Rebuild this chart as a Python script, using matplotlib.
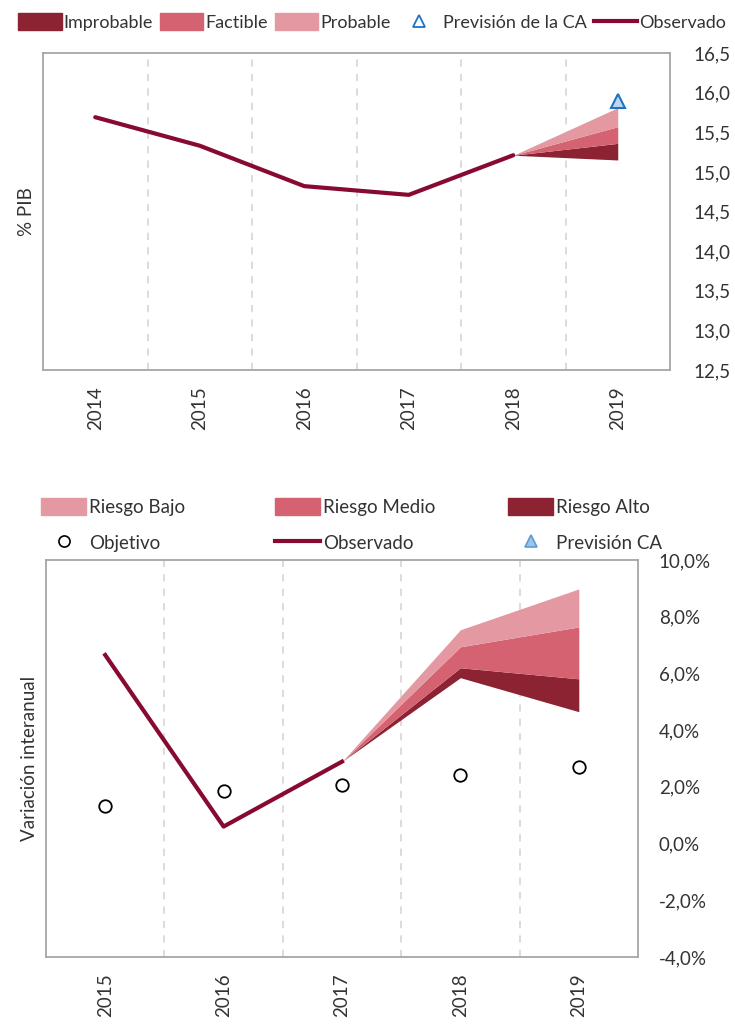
import numpy as np
import matplotlib
matplotlib.use("Agg")
import matplotlib.pyplot as plt
from matplotlib.patches import Patch
from matplotlib.lines import Line2D

plt.rcParams["font.family"] = ["Lato", "DejaVu Sans"]

# ---------------- Data ----------------
# top chart (% PIB)
years_top = ["2014", "2015", "2016", "2017", "2018", "2019"]
obs_top = [15.69, 15.33, 14.82, 14.71, 15.21]
fan_top_years = ["2018", "2019"]
fan_top_base = [15.21, 15.15]
fan_top_improbable = [15.21, 15.36]
fan_top_factible = [15.21, 15.57]
fan_top_probable = [15.21, 15.81]
prev_ca_top = 15.89

# bottom chart (variacion interanual, %)
years_bot = ["2015", "2016", "2017", "2018", "2019"]
obs_bot = [6.65, 0.6, 2.89]
objetivo = [1.34, 1.87, 2.08, 2.43, 2.71]
fan_bot_years = ["2017", "2018", "2019"]
fan_bot_base = [2.89, 5.85, 4.65]
fan_bot_alto = [2.89, 6.20, 5.81]
fan_bot_medio = [2.89, 6.94, 7.64]
fan_bot_bajo = [2.89, 7.54, 8.98]

# ---------------- Style ----------------
c_dark = "#8C2332"
c_mid = "#D46270"
c_light = "#E498A1"
c_line = "#870A30"
c_spine = "#A6A6A6"
c_grid = "#D9D9D9"
c_text = "#333333"
fs = 13.5

W, H = 735, 1025
fig = plt.figure(figsize=(W / 100, H / 100), dpi=100)


def style_axes(ax, n, ypad):
    ax.set_axisbelow(True)
    ax.set_xlim(-0.5, n - 0.5)
    ax.set_xticks(np.arange(n))
    ax.set_xticks(np.arange(n - 1) + 0.5, minor=True)
    ax.grid(which="minor", axis="x", color=c_grid, linestyle=(0, (4, 4)), linewidth=1.3)
    ax.tick_params(which="both", length=0)
    ax.tick_params(axis="x", labelrotation=90, labelsize=fs, colors=c_text, pad=12)
    ax.yaxis.tick_right()
    ax.tick_params(axis="y", labelsize=fs, colors=c_text, pad=ypad)
    for s in ax.spines.values():
        s.set_color(c_spine)
        s.set_linewidth(1.3)


# ---------------- Top chart ----------------
ax1 = fig.add_axes([43 / W, 1 - 370 / H, 627 / W, 317 / H])
n1 = len(years_top)
style_axes(ax1, n1, 17)
ax1.set_xticklabels(years_top)
xf = [years_top.index(y) for y in fan_top_years]
ax1.fill_between(xf, fan_top_base, fan_top_improbable, color=c_dark, lw=0)
ax1.fill_between(xf, fan_top_improbable, fan_top_factible, color=c_mid, lw=0)
ax1.fill_between(xf, fan_top_factible, fan_top_probable, color=c_light, lw=0)
ax1.plot(np.arange(len(obs_top)), obs_top, color=c_line, lw=3, solid_capstyle="round", zorder=3)
ax1.plot([years_top.index("2019")], [prev_ca_top], marker="^", ms=10, mfc="#BDD7EE",
         mec="#1F72C4", mew=1.5, ls="none", zorder=4)
ax1.set_ylim(12.5, 16.5)
yt1 = np.arange(12.5, 16.51, 0.5)
ax1.set_yticks(yt1)
ax1.set_yticklabels([f"{v:.1f}".replace(".", ",") for v in yt1])
ax1.set_ylabel("% PIB", fontsize=fs, color=c_text, labelpad=6)
ax1.yaxis.set_label_position("left")

h_top = [Patch(color=c_dark), Patch(color=c_mid), Patch(color=c_light),
         Line2D([], [], marker="^", ms=8, mfc="white", mec="#1F72C4", mew=1.3, ls="none"),
         Line2D([], [], color=c_line, lw=3)]
l_top = ["Improbable", "Factible", "Probable", "Previsión de la CA", "Observado"]
fig.legend(h_top, l_top, loc="center left", bbox_to_anchor=(2 / W, 1 - 22 / H), ncol=5,
           frameon=False, fontsize=13, handlelength=2.4, handleheight=1.0,
           handletextpad=0.1, columnspacing=0.4, labelcolor=c_text)

# ---------------- Bottom chart ----------------
ax2 = fig.add_axes([46 / W, 1 - 957 / H, 592 / W, 397 / H])
n2 = len(years_bot)
style_axes(ax2, n2, 15)
ax2.set_xticklabels(years_bot)
xb = [years_bot.index(y) for y in fan_bot_years]
ax2.fill_between(xb, fan_bot_base, fan_bot_alto, color=c_dark, lw=0)
ax2.fill_between(xb, fan_bot_alto, fan_bot_medio, color=c_mid, lw=0)
ax2.fill_between(xb, fan_bot_medio, fan_bot_bajo, color=c_light, lw=0)
ax2.plot(np.arange(len(obs_bot)), obs_bot, color=c_line, lw=3, zorder=3)
ax2.plot(np.arange(n2), objetivo, marker="o", ms=9, mfc="white", mec="black", mew=1.3,
         ls="none", zorder=4)
ax2.set_ylim(-4, 10)
yt2 = np.arange(-4, 10.01, 2)
ax2.set_yticks(yt2)
ax2.set_yticklabels([f"{v:.1f}%".replace(".", ",") for v in yt2])
ax2.set_ylabel("Variación interanual", fontsize=fs, color=c_text, labelpad=6)
ax2.yaxis.set_label_position("left")

cols = [
    ([Patch(color=c_light), Line2D([], [], marker="o", ms=8, mfc="white", mec="black", mew=1.2, ls="none")],
     ["Riesgo Bajo", "Objetivo"], 32),
    ([Patch(color=c_mid), Line2D([], [], color=c_line, lw=3)],
     ["Riesgo Medio", "Observado"], 266),
    ([Patch(color=c_dark), Line2D([], [], marker="^", ms=8, mfc="#9DC3E6", mec="#5B9BD5", mew=1.2, ls="none")],
     ["Riesgo Alto", "Previsión CA"], 499),
]
for hh, ll, x0 in cols:
    fig.legend(hh, ll, loc="upper left", bbox_to_anchor=(x0 / W, 1 - 489 / H), ncol=1,
               frameon=False, fontsize=13.5, handlelength=2.4, handleheight=1.0,
               handletextpad=0.15, labelspacing=0.95, borderpad=0, labelcolor=c_text)

fig.savefig("out.png", dpi=100)
